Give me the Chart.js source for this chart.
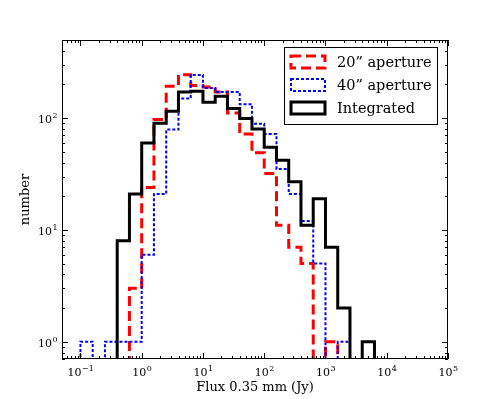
<!DOCTYPE html>
<html lang="en">
<head>
<meta charset="UTF-8">
<title>Flux 0.35 mm histogram</title>
<style>
  html, body { margin: 0; padding: 0; background: #fff; }
  #wrap { width: 498px; height: 399px; position: relative; }
</style>
</head>
<body>
<div id="wrap"><canvas id="hist"></canvas></div>

<script src="https://cdn.jsdelivr.net/npm/chart.js"></script>
<script>
// bin edges in log10(Jy), 0.2 dex wide
const binEdges = [-1.0, -0.8, -0.6, -0.4, -0.2, 0.0, 0.2, 0.4, 0.6, 0.8, 1.0, 1.2, 1.4,
                  1.6, 1.8, 2.0, 2.2, 2.4, 2.6, 2.8, 3.0, 3.2, 3.4, 3.6, 3.8];

// counts per bin
const counts20 = [0, 0, 0, 0, 3, 24, 97, 193, 245, 196, 190, 171, 111, 72, 49, 32, 11, 7, 5, 0, 1, 0, 0, 0];
const counts40 = [1, 0, 1, 1, 1, 6, 21, 79, 150, 243, 186, 171, 171, 133, 89, 72, 35, 21, 12, 5, 0, 1, 0, 0];
const countsInt = [0, 0, 0, 8, 21, 60, 90, 115, 171, 174, 139, 157, 122, 99, 80, 55, 42, 27, 11, 19, 7, 2, 0, 1];

const seriesNames = ['20\u201d aperture', '40\u201d aperture', 'Integrated'];
const xTickExp = [-1, 0, 1, 2, 3, 4, 5];
const yTickExp = [0, 1, 2];

const xMin = 0.05, xMax = 1e5;
const yMin = 0.7, yMax = 500;
const FLOOR = 1e-3; // empty bins drop below the axis

const serif = '"DejaVu Serif", serif';

function stepPoints(counts) {
  const pts = [{ x: Math.pow(10, binEdges[0]), y: FLOOR }];
  counts.forEach((c, i) => {
    pts.push({ x: Math.pow(10, binEdges[i]), y: c > 0 ? c : FLOOR });
  });
  pts.push({ x: Math.pow(10, binEdges[binEdges.length - 1]), y: FLOOR });
  return pts;
}

function drawPow(ctx, exp, x, y, align, big, small) {
  // "10" with raised exponent
  const base = '10';
  const sup = exp < 0 ? '\u2212' + (-exp) : String(exp);
  ctx.font = big + 'px ' + serif;
  const wb = ctx.measureText(base).width;
  ctx.font = small + 'px ' + serif;
  const ws = ctx.measureText(sup).width;
  let left = align === 'center' ? x - (wb + ws) / 2 : x - (wb + ws);
  ctx.textAlign = 'left';
  ctx.textBaseline = 'alphabetic';
  ctx.font = big + 'px ' + serif;
  ctx.fillText(base, left, y);
  ctx.font = small + 'px ' + serif;
  ctx.fillText(sup, left + wb + 0.5, y - big * 0.45);
}

const decor = {
  id: 'decor',
  afterDatasetsDraw(chart) {
    const { ctx, chartArea: a, scales: { x, y } } = chart;
    ctx.save();
    ctx.strokeStyle = '#000';
    ctx.fillStyle = '#000';
    ctx.lineWidth = 1;
    ctx.setLineDash([]);

    // inward ticks on all four sides
    ctx.beginPath();
    for (let k = Math.floor(Math.log10(xMin)); k <= Math.log10(xMax); k++) {
      for (let m = 1; m <= 9; m++) {
        const v = m * Math.pow(10, k);
        if (v < xMin || v > xMax) continue;
        const px = Math.round(x.getPixelForValue(v)) + 0.5;
        const len = m === 1 ? 6 : 3;
        ctx.moveTo(px, a.bottom); ctx.lineTo(px, a.bottom - len);
        ctx.moveTo(px, a.top); ctx.lineTo(px, a.top + len);
      }
    }
    for (let k = Math.floor(Math.log10(yMin)); k <= Math.log10(yMax); k++) {
      for (let m = 1; m <= 9; m++) {
        const v = m * Math.pow(10, k);
        if (v < yMin || v > yMax) continue;
        const py = Math.round(y.getPixelForValue(v)) + 0.5;
        const len = m === 1 ? 6 : 3;
        ctx.moveTo(a.left, py); ctx.lineTo(a.left + len, py);
        ctx.moveTo(a.right, py); ctx.lineTo(a.right - len, py);
      }
    }
    ctx.stroke();

    // frame
    ctx.strokeRect(a.left + 0.5, a.top + 0.5, a.right - a.left - 1, a.bottom - a.top - 1);

    // tick labels
    xTickExp.forEach(e => {
      drawPow(ctx, e, x.getPixelForValue(Math.pow(10, e)), a.bottom + 17, 'center', 11, 8);
    });
    yTickExp.forEach(e => {
      drawPow(ctx, e, a.left - 5, y.getPixelForValue(Math.pow(10, e)) + 5, 'right', 11, 8);
    });

    // axis titles
    ctx.font = '13px ' + serif;
    ctx.textAlign = 'center';
    ctx.textBaseline = 'middle';
    ctx.fillText('Flux 0.35 mm (Jy)', (a.left + a.right) / 2, 388);
    ctx.save();
    ctx.translate(26, (a.top + a.bottom) / 2);
    ctx.rotate(-Math.PI / 2);
    ctx.fillText('number', 0, 0);
    ctx.restore();

    // legend
    const lx = 284, ly = 47, lw = 153, lh = 77;
    ctx.fillStyle = '#fff';
    ctx.fillRect(lx, ly, lw, lh);
    ctx.strokeStyle = '#000';
    ctx.lineWidth = 1;
    ctx.strokeRect(lx + 0.5, ly + 0.5, lw, lh);
    const rows = [62, 85, 108];
    const sets = [chart.data.datasets[2], chart.data.datasets[1], chart.data.datasets[0]];
    sets.forEach((ds, i) => {
      ctx.strokeStyle = ds.borderColor;
      ctx.lineWidth = ds.borderWidth;
      ctx.setLineDash(ds.borderDash || []);
      ctx.strokeRect(291, rows[i] - 6, 34, 12);
      ctx.setLineDash([]);
      ctx.fillStyle = '#000';
      ctx.font = '14.5px ' + serif;
      ctx.textAlign = 'left';
      ctx.textBaseline = 'middle';
      ctx.fillText(ds.label, 337, rows[i] + 1);
    });
    ctx.restore();
  }
};

const ctx = document.getElementById('hist');

const chart = new Chart(ctx, {
  type: 'line',
  data: {
    datasets: [
      {
        label: seriesNames[2],
        data: stepPoints(countsInt),
        borderColor: '#000000',
        borderWidth: 3,
        order: 1
      },
      {
        label: seriesNames[1],
        data: stepPoints(counts40),
        borderColor: '#0000ff',
        borderWidth: 2,
        borderDash: [3, 2],
        order: 2
      },
      {
        label: seriesNames[0],
        data: stepPoints(counts20),
        borderColor: '#ff0000',
        borderWidth: 3,
        borderDash: [10, 5],
        order: 3
      }
    ]
  },
  options: {
    responsive: true,
    maintainAspectRatio: false,
    animation: false,
    layout: { padding: { left: 62, right: 50, top: 40, bottom: 40 } },
    elements: {
      line: { stepped: 'before', tension: 0, fill: false, borderCapStyle: 'butt', borderJoinStyle: 'miter' },
      point: { radius: 0, hoverRadius: 0 }
    },
    scales: {
      x: { type: 'logarithmic', min: xMin, max: xMax, display: false },
      y: { type: 'logarithmic', min: yMin, max: yMax, display: false }
    },
    plugins: {
      legend: { display: false },
      tooltip: { enabled: false }
    }
  },
  plugins: [decor]
});
</script>
</body>
</html>
